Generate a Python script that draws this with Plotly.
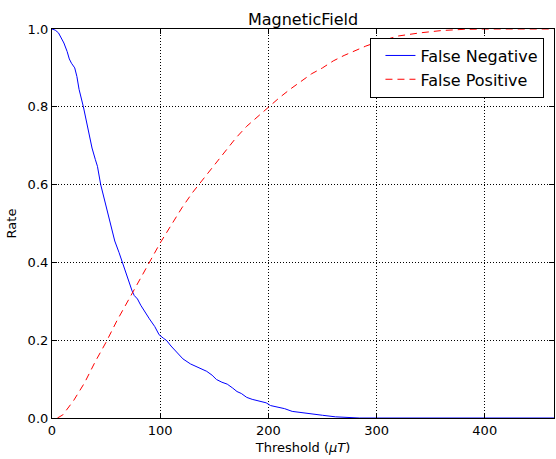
import plotly.graph_objects as go

fn_x = [0, 3, 6, 8, 11, 14, 16, 18, 21, 23, 25, 29, 32, 35, 37, 40, 42, 45, 48, 51, 55, 58, 62, 65, 69, 72, 74, 76, 79, 82, 85, 90, 95, 99, 103, 106, 110, 115, 121, 128, 135, 143, 148, 152, 157, 162, 167, 171, 175, 180, 185, 190, 198, 202, 209, 215, 222, 230, 238, 250, 262, 275, 284, 464]
fn_y = [1.0, 0.997, 0.99, 0.98, 0.964, 0.942, 0.923, 0.912, 0.90, 0.878, 0.845, 0.80, 0.76, 0.72, 0.694, 0.665, 0.647, 0.60, 0.565, 0.53, 0.484, 0.455, 0.425, 0.40, 0.366, 0.345, 0.327, 0.315, 0.306, 0.29, 0.276, 0.255, 0.235, 0.214, 0.205, 0.199, 0.185, 0.17, 0.152, 0.139, 0.13, 0.12, 0.11, 0.099, 0.092, 0.087, 0.077, 0.068, 0.063, 0.053, 0.048, 0.045, 0.039, 0.032, 0.028, 0.024, 0.017, 0.014, 0.010, 0.007, 0.003, 0.001, 0.0, 0.0]

fp_x = [5, 10, 20, 30, 40, 50, 60, 70, 80, 90, 100, 110, 120, 130, 140, 150, 160, 170, 180, 190, 200, 210, 220, 230, 240, 250, 260, 270, 280, 290, 300, 320, 340, 360, 380, 400, 464]
fp_y = [0.0, 0.008, 0.045, 0.09, 0.145, 0.195, 0.25, 0.30, 0.35, 0.40, 0.45, 0.495, 0.54, 0.58, 0.615, 0.65, 0.685, 0.72, 0.75, 0.775, 0.80, 0.823, 0.845, 0.865, 0.885, 0.90, 0.918, 0.932, 0.945, 0.956, 0.966, 0.982, 0.99, 0.996, 0.999, 1.0, 1.0]

x_ticks = [0, 100, 200, 300, 400]
y_ticks = [0.0, 0.2, 0.4, 0.6, 0.8, 1.0]

font = "DejaVu Sans"

fig = go.Figure()
fig.add_trace(go.Scatter(x=fn_x, y=fn_y, mode="lines", name="False Negative",
                         line=dict(color="#0000ff", width=1)))
fig.add_trace(go.Scatter(x=fp_x, y=fp_y, mode="lines", name="False Positive",
                         line=dict(color="#ff0000", width=1, dash="7px,5px")))

axis_common = dict(showline=True, linecolor="black", linewidth=1.2, mirror="allticks",
                   ticks="inside", ticklen=5, tickcolor="black", tickwidth=1,
                   showgrid=True, gridcolor="black", griddash="1px,2px", gridwidth=1,
                   zeroline=False, tickfont=dict(family=font, size=13, color="black"))

fig.update_xaxes(range=[0, 464], tickvals=x_ticks, ticktext=[str(v) for v in x_ticks],
                 title=dict(text="Threshold (<i>μT</i>)", font=dict(family=font, size=13, color="black"), standoff=6),
                 **axis_common)
fig.update_yaxes(range=[0, 1.0], tickvals=y_ticks, ticktext=[f"{v:.1f}" for v in y_ticks],
                 title=dict(text="Rate", font=dict(family=font, size=13, color="black"), standoff=8),
                 **axis_common)

fig.update_layout(
    width=556, height=459,
    margin=dict(l=52, r=2, t=29, b=41),
    paper_bgcolor="white", plot_bgcolor="white",
    title=dict(text="MagneticField", x=0.545, xanchor="center", y=0.958, yanchor="middle",
               font=dict(family=font, size=16, color="black")),
    legend=dict(x=0.981, y=0.978, xanchor="right", yanchor="top",
                bgcolor="white", bordercolor="black", borderwidth=1,
                font=dict(family=font, size=16, color="black"),
                tracegroupgap=0, indentation=9),
    showlegend=True,
)

fig.write_html("out.html")
